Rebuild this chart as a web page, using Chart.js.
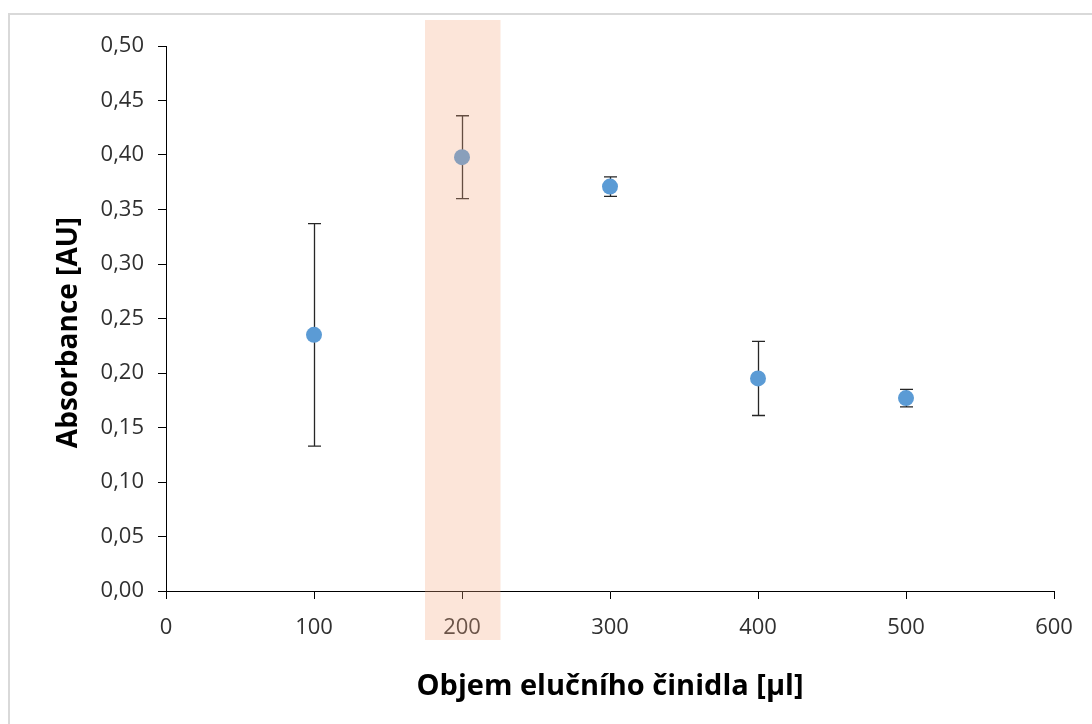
<!DOCTYPE html>
<html>
<head>
<meta charset="utf-8">
<script src="https://cdn.jsdelivr.net/npm/chart.js@4"></script>
<style>
  html, body { margin: 0; padding: 0; background: #ffffff; }
  #wrap { position: relative; width: 1092px; height: 724px; }
</style>
</head>
<body>
<div id="wrap"><canvas id="c" width="1092" height="724"></canvas></div>
<script>
// ---- data ----
const volumes = [100, 200, 300, 400, 500];
const absorbance = [0.235, 0.398, 0.371, 0.195, 0.177];
const errors = [0.102, 0.038, 0.009, 0.034, 0.008];
const highlightRange = [175, 226];
const xTitle = 'Objem elučního činidla [µl]';
const yTitle = 'Absorbance [AU]';

const FONT = '"Open Sans", "Noto Sans", sans-serif';

const frame = {
  id: 'frame',
  beforeDraw(chart) {
    const ctx = chart.ctx;
    ctx.save();
    ctx.fillStyle = '#ffffff';
    ctx.fillRect(0, 0, chart.width, chart.height);
    ctx.strokeStyle = '#d9d9d9';
    ctx.lineWidth = 2;
    ctx.strokeRect(9, 14, chart.width + 50, chart.height + 50);
    ctx.restore();
  }
};

const errorBars = {
  id: 'errorBars',
  beforeDatasetsDraw(chart) {
    const ctx = chart.ctx;
    const xs = chart.scales.x, ys = chart.scales.y;
    ctx.save();
    ctx.strokeStyle = '#262626';
    ctx.lineWidth = 1.3;
    volumes.forEach((v, i) => {
      const px = Math.round(xs.getPixelForValue(v)) + 0.5;
      const top = ys.getPixelForValue(absorbance[i] + errors[i]);
      const bot = ys.getPixelForValue(absorbance[i] - errors[i]);
      ctx.beginPath();
      ctx.moveTo(px, top); ctx.lineTo(px, bot);
      ctx.moveTo(px - 6.5, top); ctx.lineTo(px + 6.5, top);
      ctx.moveTo(px - 6.5, bot); ctx.lineTo(px + 6.5, bot);
      ctx.stroke();
    });
    ctx.restore();
  }
};

const band = {
  id: 'band',
  afterDatasetsDraw(chart) {
    const ctx = chart.ctx;
    const xs = chart.scales.x;
    const a = chart.chartArea;
    const x0 = xs.getPixelForValue(highlightRange[0]);
    const x1 = xs.getPixelForValue(highlightRange[1]);
    ctx.save();
    ctx.fillStyle = 'rgba(245,170,130,0.30)';
    ctx.fillRect(x0, a.top - 26, x1 - x0, (a.bottom - a.top) + 75);
    ctx.restore();
  }
};

new Chart(document.getElementById('c'), {
  type: 'scatter',
  data: {
    datasets: [{
      data: volumes.map((v, i) => ({ x: v, y: absorbance[i] })),
      backgroundColor: '#5B9BD5',
      borderColor: '#5B9BD5',
      borderWidth: 0,
      pointRadius: 8,
      pointHoverRadius: 8
    }]
  },
  options: {
    responsive: false,
    animation: false,
    devicePixelRatio: 1,
    layout: { padding: { top: 46, right: 38, left: 0, bottom: 0 } },
    plugins: { legend: { display: false }, tooltip: { enabled: false } },
    scales: {
      x: {
        type: 'linear',
        min: 0, max: 600,
        afterFit(s) { s.height = 133; },
        border: { color: '#000000', width: 1 },
        grid: { drawOnChartArea: false, drawTicks: true, tickLength: 8, tickColor: '#000000' },
        ticks: { stepSize: 100, padding: 16, color: '#303030', font: { family: FONT, size: 22 } },
        title: { display: true, text: xTitle, color: '#000000', font: { family: FONT, size: 29, weight: 'bold' }, padding: { top: 0, bottom: 20 } }
      },
      y: {
        type: 'linear',
        min: 0, max: 0.5,
        afterFit(s) { s.width = 166; },
        border: { color: '#000000', width: 1 },
        grid: { drawOnChartArea: false, drawTicks: true, tickLength: 8, tickColor: '#000000' },
        ticks: {
          stepSize: 0.05, padding: 14, color: '#303030', font: { family: FONT, size: 22 },
          callback: (v) => v.toFixed(2).replace('.', ',')
        },
        title: { display: true, text: yTitle + '\u2002\u2002', color: '#000000', font: { family: FONT, size: 28, weight: 'bold' }, padding: { top: 52, bottom: 0 } }
      }
    }
  },
  plugins: [frame, errorBars, band]
});
</script>
</body>
</html>
